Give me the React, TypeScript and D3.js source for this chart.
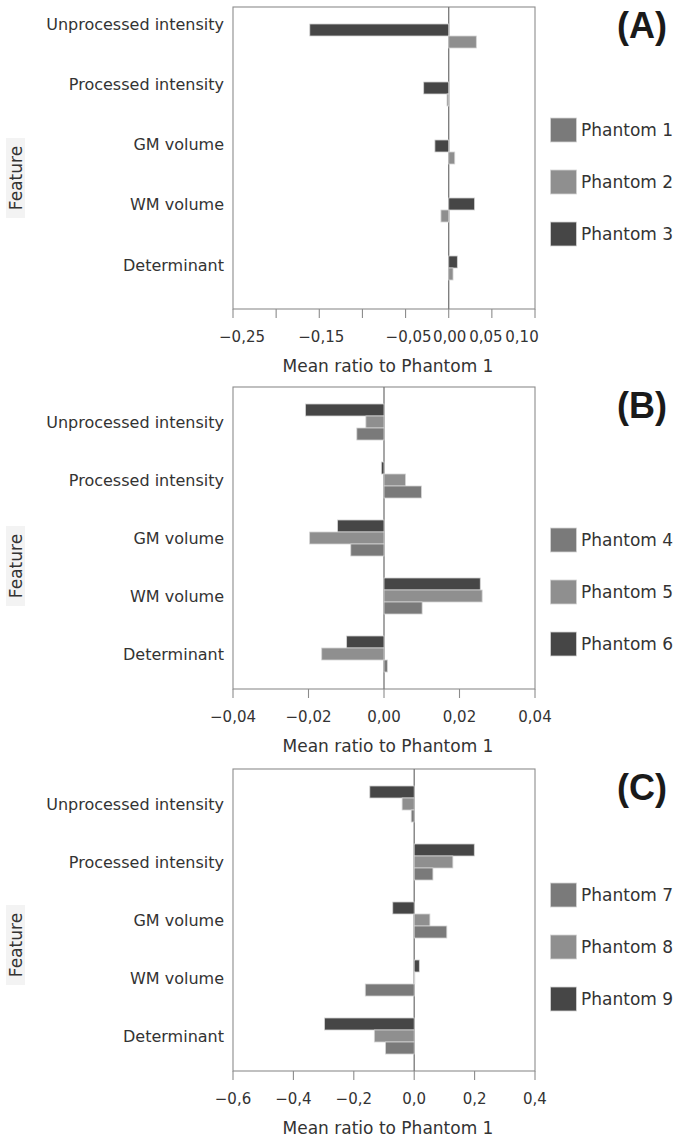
import React from 'react';
import * as d3 from 'd3';

// Data
const features = ['Unprocessed intensity', 'Processed intensity', 'GM volume', 'WM volume', 'Determinant'];

const phantomsA = ['Phantom 1', 'Phantom 2', 'Phantom 3'];
const phantomsB = ['Phantom 4', 'Phantom 5', 'Phantom 6'];
const phantomsC = ['Phantom 7', 'Phantom 8', 'Phantom 9'];

const phantom1 = [0, 0, 0, 0, 0];
const phantom2 = [0.032, -0.002, 0.007, -0.009, 0.005];
const phantom3 = [-0.161, -0.029, -0.016, 0.030, 0.010];

const phantom4 = [-0.0072, 0.0099, -0.0088, 0.0101, 0.0009];
const phantom5 = [-0.0048, 0.0057, -0.0197, 0.0260, -0.0165];
const phantom6 = [-0.0208, -0.0007, -0.0123, 0.0255, -0.0099];

const phantom7 = [-0.010, 0.062, 0.108, -0.162, -0.095];
const phantom8 = [-0.040, 0.128, 0.052, 0.002, -0.132];
const phantom9 = [-0.147, 0.199, -0.071, 0.017, -0.297];

const ticksA = [-0.25, -0.2, -0.15, -0.1, -0.05, 0, 0.05, 0.1];
const tickLabelsA = ['−0,25', '', '−0,15', '', '−0,05', '0,00', '0,05', '0,10'];
const ticksB = [-0.04, -0.02, 0, 0.02, 0.04];
const tickLabelsB = ['−0,04', '−0,02', '0,00', '0,02', '0,04'];
const ticksC = [-0.6, -0.4, -0.2, 0, 0.2, 0.4];
const tickLabelsC = ['−0,6', '−0,4', '−0,2', '0,0', '0,2', '0,4'];

const colors = ['#7a7a7a', '#8f8f8f', '#464646'];

const W = 676;
const H = 1140;
const frameLeft = 233;
const frameRight = 535;
const frameH = 302;
const font = '"DejaVu Sans", Verdana, sans-serif';
const textColor = '#333';

interface PanelProps {
  top: number;
  letter: string;
  names: string[];
  series: number[][];
  ticks: number[];
  tickLabels: string[];
  labelNudge?: number[];
  legendOffset: number;
  featureOffset: number;
  pointLabels?: boolean;
}

function Panel({ top, letter, names, series, ticks, tickLabels, labelNudge, legendOffset, featureOffset, pointLabels }: PanelProps) {
  const bottom = top + frameH;
  const x = d3.scaleLinear()
    .domain([ticks[0], ticks[ticks.length - 1]])
    .range([frameLeft, frameRight]);

  const y = d3.scaleBand<string>()
    .domain(features)
    .range([top, bottom])
    .paddingInner(0.379)
    .paddingOuter(0.293);

  // top bar is the last phantom
  const order = [2, 1, 0];
  const inner = d3.scaleBand<number>()
    .domain(order)
    .range([0, y.bandwidth()]);

  const labelY = pointLabels
    ? d3.scalePoint<string>().domain(features).range([top + 17, bottom - 44])
    : null;

  const x0 = x(0);
  const midY = (top + bottom) / 2;

  return (
    <g>
      {/* frame */}
      <rect x={frameLeft} y={top} width={frameRight - frameLeft} height={frameH}
        fill="white" stroke="#8c8c8c" strokeWidth={1.1} />

      {/* zero line */}
      <line x1={x0} x2={x0} y1={top} y2={bottom} stroke="#777" strokeWidth={1.3} />

      {/* bars */}
      {features.map((f, i) => (
        <g key={f}>
          {order.map(s => {
            const v = series[s][i];
            const bx = Math.min(x(v), x0);
            const bw = Math.abs(x(v) - x0);
            if (bw <= 0) return null;
            return (
              <rect key={s}
                x={bx} y={(y(f) || 0) + (inner(s) || 0)}
                width={bw} height={inner.bandwidth()}
                fill={colors[s]} stroke="#d4d4d4" strokeWidth={0.8} />
            );
          })}
        </g>
      ))}

      {/* x axis ticks */}
      {ticks.map((t, i) => (
        <g key={t}>
          <line x1={x(t)} x2={x(t)} y1={bottom} y2={bottom + 9} stroke="#8c8c8c" strokeWidth={1.1} />
          <text x={x(t) + (labelNudge ? labelNudge[i] : 0)} y={bottom + 33}
            textAnchor="middle" fontSize={15} fill={textColor} fontFamily={font}>
            {tickLabels[i]}
          </text>
        </g>
      ))}

      <text x={(frameLeft + frameRight) / 2 + 4} y={bottom + 63} textAnchor="middle"
        fontSize={17} fill={textColor} fontFamily={font}>
        Mean ratio to Phantom 1
      </text>

      {/* category labels */}
      {features.map(f => (
        <text key={f} x={224}
          y={labelY ? (labelY(f) || 0) : (y(f) || 0) + y.bandwidth() / 2}
          dy="0.35em" textAnchor="end" fontSize={16} fill={textColor} fontFamily={font}>
          {f}
        </text>
      ))}

      {/* y axis title */}
      <g transform={`translate(16, ${midY + featureOffset}) rotate(-90)`}>
        <rect x={-40} y={-10} width={80} height={19} fill="#f3f3f3" />
        <text x={0} y={0} dy="0.35em" textAnchor="middle" fontSize={17}
          fill={textColor} fontFamily={font}>
          Feature
        </text>
      </g>

      {/* legend */}
      {names.map((n, i) => {
        const ly = top + legendOffset + i * 52;
        return (
          <g key={n}>
            <rect x={550.5} y={ly} width={26} height={24} fill={colors[i]}
              stroke="#d4d4d4" strokeWidth={0.8} />
            <text x={581} y={ly + 12} dy="0.35em" fontSize={17} fill={textColor} fontFamily={font}>
              {n}
            </text>
          </g>
        );
      })}

      {/* panel letter */}
      <text x={667} y={top + 31} textAnchor="end" fontSize={36} fontWeight={700}
        fill="#1a1a1a" fontFamily='"Liberation Sans", Arial, sans-serif'>
        {letter}
      </text>
    </g>
  );
}

export default function App() {
  return (
    <div style={{ position: 'absolute', left: 0, top: 0 }}>
      <svg width={W} height={H} style={{ display: 'block', background: 'white' }}>
        <Panel top={7} letter="(A)" names={phantomsA}
          series={[phantom1, phantom2, phantom3]}
          ticks={ticksA} tickLabels={tickLabelsA}
          labelNudge={[9, 0, 2, 0, 3, 1, -6, -13]}
          legendOffset={111} featureOffset={20} pointLabels />
        <Panel top={387} letter="(B)" names={phantomsB}
          series={[phantom4, phantom5, phantom6]}
          ticks={ticksB} tickLabels={tickLabelsB}
          legendOffset={141} featureOffset={28} />
        <Panel top={769} letter="(C)" names={phantomsC}
          series={[phantom7, phantom8, phantom9]}
          ticks={ticksC} tickLabels={tickLabelsC}
          legendOffset={114} featureOffset={25} />
      </svg>
    </div>
  );
}
